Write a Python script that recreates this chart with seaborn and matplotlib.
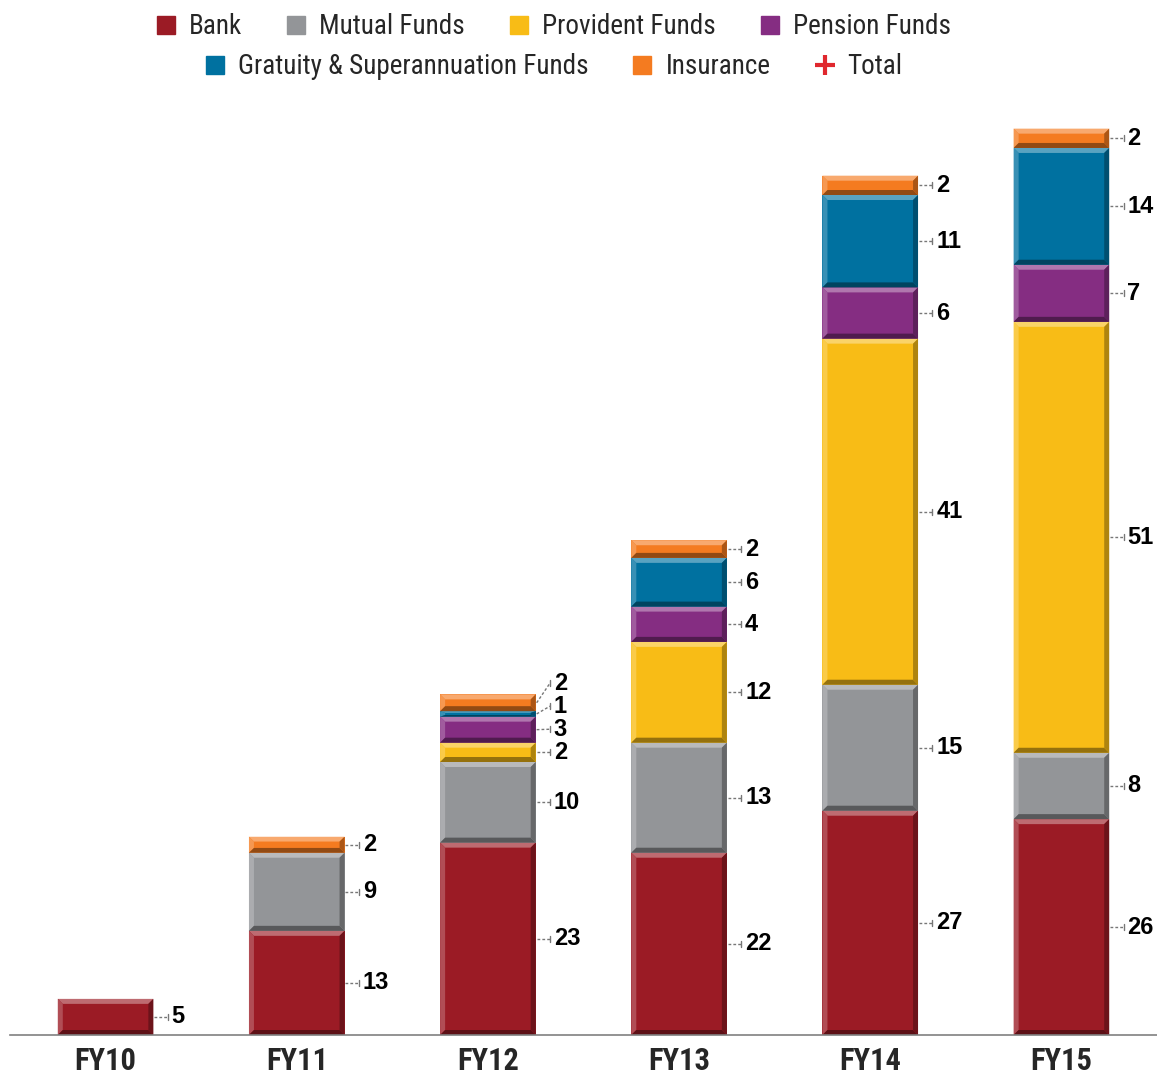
import numpy as np
import pandas as pd
import matplotlib
matplotlib.use("Agg")
import matplotlib.pyplot as plt
import matplotlib.colors as mcolors
from matplotlib.patches import Polygon
from matplotlib.lines import Line2D
from matplotlib import font_manager
import seaborn as sns

years = ["FY10", "FY11", "FY12", "FY13", "FY14", "FY15"]
sources = ["Bank", "Mutual Funds", "Provident Funds", "Pension Funds",
           "Gratuity & Superannuation Funds", "Insurance"]
colors = ["#9b1b25", "#939598", "#f8bc16", "#852d82", "#0071a0", "#f47b20"]

# segment heights
bank = [4.3, 12.4, 22.9, 21.7, 26.7, 25.7]
mutual = [0, 9.3, 9.6, 13.1, 15.0, 7.9]
provident = [0, 0, 2.3, 12.0, 41.2, 51.3]
pension = [0, 0, 3.1, 4.2, 6.1, 6.8]
gratuity = [0, 0, 0.65, 5.8, 11.0, 13.9]
insurance = [0, 1.9, 2.0, 2.1, 2.3, 2.3]

# printed labels (rounded figures shown on the chart)
bank_lbl = ["5", "13", "23", "22", "27", "26"]
mutual_lbl = ["", "9", "10", "13", "15", "8"]
provident_lbl = ["", "", "2", "12", "41", "51"]
pension_lbl = ["", "", "3", "4", "6", "7"]
gratuity_lbl = ["", "", "1", "6", "11", "14"]
insurance_lbl = ["", "2", "2", "2", "2", "2"]

series = [bank, mutual, provident, pension, gratuity, insurance]
labels = [bank_lbl, mutual_lbl, provident_lbl, pension_lbl, gratuity_lbl, insurance_lbl]

names = {f.name for f in font_manager.fontManager.ttflist}
narrow = next((n for n in ["Liberation Sans Narrow", "Roboto Condensed",
                           "Open Sans Condensed", "Liberation Sans"] if n in names),
              "DejaVu Sans")
bold_font = "Liberation Sans" if "Liberation Sans" in names else "DejaVu Sans"

sns.set_style("white")
fig = plt.figure(figsize=(11.57, 10.76), dpi=100)
ax = fig.add_axes([10 / 1157, 41 / 1076, 1147 / 1157, 940.8 / 1076])

bottom = np.zeros(len(years))
segs = []
for name, vals, col in zip(sources, series, colors):
    df = pd.DataFrame({"year": years, "value": vals})
    n_before = len(ax.patches)
    sns.barplot(data=df, x="year", y="value", order=years, color=col,
                width=0.5, errorbar=None, bottom=bottom.copy(),
                linewidth=0, saturation=1, ax=ax)
    segs.append((col, list(ax.patches[n_before:])))
    bottom += np.array(vals)

ax.set_xlim(-0.5, 5.5)
ax.set_ylim(0, 112)


def shade(c, f):
    r = np.array(mcolors.to_rgb(c))
    return tuple(r + (1 - r) * f) if f > 0 else tuple(r * (1 + f))


inv = ax.transData.inverted()
p0 = inv.transform((0, 0))
p1 = inv.transform((5, 5))
bx, by = p1 - p0

# bevelled edges
for col, patches in segs:
    for p in patches:
        x0, y0, w, h = p.get_x(), p.get_y(), p.get_width(), p.get_height()
        if h <= 0:
            continue
        bh = min(by, h * 0.3)
        bw = bx
        top = [(x0, y0 + h), (x0 + w, y0 + h), (x0 + w - bw, y0 + h - bh), (x0 + bw, y0 + h - bh)]
        left = [(x0, y0), (x0, y0 + h), (x0 + bw, y0 + h - bh), (x0 + bw, y0 + bh)]
        bot = [(x0, y0), (x0 + w, y0), (x0 + w - bw, y0 + bh), (x0 + bw, y0 + bh)]
        right = [(x0 + w, y0), (x0 + w, y0 + h), (x0 + w - bw, y0 + h - bh), (x0 + w - bw, y0 + bh)]
        ax.add_patch(Polygon(top, closed=True, color=shade(col, 0.35), lw=0))
        ax.add_patch(Polygon(left, closed=True, color=shade(col, 0.22), lw=0))
        ax.add_patch(Polygon(bot, closed=True, color=shade(col, -0.4), lw=0))
        ax.add_patch(Polygon(right, closed=True, color=shade(col, -0.3), lw=0))

# value labels with leader lines
for i in range(len(years)):
    prev = -10
    for (col, patches), lbl in zip(segs, labels):
        p = patches[i]
        if p.get_height() <= 0 or lbl[i] == "":
            continue
        mid = p.get_y() + p.get_height() / 2
        ly = max(mid, prev + 2.75)
        prev = ly
        xr = p.get_x() + p.get_width()
        ax.plot([xr + 0.005, xr + 0.075], [mid, ly], ls=(0, (2, 1.5)),
                color="#777777", lw=1)
        ax.plot([xr + 0.075] * 2, [ly - 0.35, ly + 0.35], color="#777777", lw=1)
        ax.text(xr + 0.095, ly, lbl[i], ha="left", va="center", fontsize=17,
                fontweight="bold", family=bold_font, color="black")

for s in ["left", "top", "right"]:
    ax.spines[s].set_visible(False)
ax.spines["bottom"].set_color("#808080")
ax.spines["bottom"].set_linewidth(1.2)
ax.set_yticks([])
ax.set_xlabel("")
ax.set_ylabel("")
ax.set_xticks(range(len(years)))
ax.set_xticklabels(years, family=narrow, fontweight="bold", fontsize=22)
ax.set_xticks(np.arange(-0.5, 5, 1.0), minor=True)
ax.tick_params(axis="x", which="major", length=0, pad=8)
ax.tick_params(axis="x", which="minor", length=14, width=1.2, color="#808080")

# legend in two centred rows
h1 = [Line2D([], [], marker="s", ls="", color=c, markersize=13) for c in colors[:4]]
h2 = [Line2D([], [], marker="s", ls="", color=c, markersize=13) for c in colors[4:]]
h2.append(Line2D([], [], marker="+", ls="", color="#e0282e", markersize=15, markeredgewidth=3))
leg_kw = dict(loc="center", frameon=False, prop={"family": narrow, "size": 19.5},
              handletextpad=0.35, columnspacing=1.5, handlelength=1.0)
fig.legend(h1, sources[:4], ncol=4, bbox_to_anchor=(0.477, 1 - 27 / 1076), **leg_kw)
fig.legend(h2, sources[4:] + ["Total"], ncol=3, bbox_to_anchor=(0.477, 1 - 67 / 1076), **leg_kw)

fig.savefig("out.png", dpi=100, facecolor="white")
